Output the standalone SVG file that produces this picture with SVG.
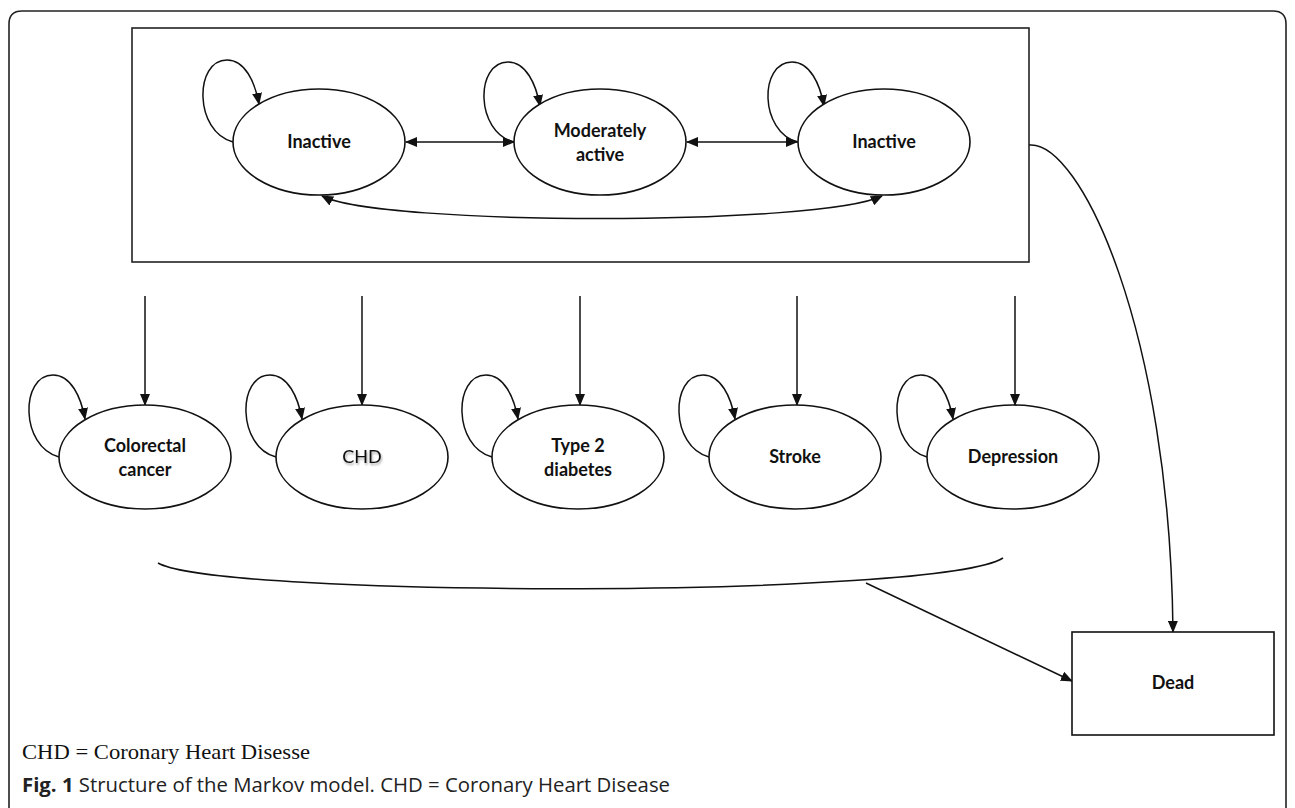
<svg xmlns="http://www.w3.org/2000/svg" width="1295" height="808" viewBox="0 0 1295 808">
<defs>
  <marker id="arr" markerWidth="12" markerHeight="10" refX="11" refY="5" orient="auto-start-reverse" markerUnits="userSpaceOnUse">
    <path d="M0,0 L12,5 L0,10 Z" fill="#111"/>
  </marker>
  <filter id="shadow" x="-20%" y="-20%" width="140%" height="140%">
    <feDropShadow dx="1" dy="2" stdDeviation="1" flood-color="#000" flood-opacity="0.35"/>
  </filter>
</defs>
<style>
  .frame{fill:none;stroke:#222;stroke-width:1.6}
  .node{fill:#fff;stroke:#111;stroke-width:1.6}
  .lbl{font-family:Lato,"Liberation Sans",sans-serif;font-weight:bold;font-size:18px;fill:#111;text-anchor:middle}
  .lblr{font-family:Lato,"Liberation Sans",sans-serif;font-weight:normal;font-size:18px;fill:#111;text-anchor:middle}
  .edge{fill:none;stroke:#111;stroke-width:1.5}
  .note{font-family:"Liberation Serif",serif;font-size:21px;fill:#111}
  .cap{font-family:"Open Sans","Liberation Sans",sans-serif;font-size:20px;fill:#222}
</style>
<rect width="1295" height="808" fill="#fff"/>
<path class="frame" d="M9,808 L9,24 Q9,11 22,11 L1273,11 Q1286,11 1286,24 L1286,808"/>

<g id="health-states">
  <rect class="frame" x="132" y="28" width="897" height="234"/>
</g>

<g id="connectors">
  <path class="edge" marker-end="url(#arr)" d="M233,142 C194,132 194,60 227,60 C245,60 255,82 259,104"/>
  <path class="edge" marker-end="url(#arr)" d="M514,142 C475,132 475,62 508,62 C526,62 536,84 540,106"/>
  <path class="edge" marker-end="url(#arr)" d="M798,142 C759,132 759,62 792,62 C810,62 820,84 824,106"/>
  <path class="edge" marker-start="url(#arr)" marker-end="url(#arr)" d="M406,142 L514,142"/>
  <path class="edge" marker-start="url(#arr)" marker-end="url(#arr)" d="M687,142 L797,142"/>
  <path class="edge" marker-start="url(#arr)" marker-end="url(#arr)" d="M322,196 C380,226 820,226 882,196"/>
  <path class="edge" marker-end="url(#arr)" d="M1029,145 C1080,140 1170,330 1173,632"/>
  <path class="edge" marker-end="url(#arr)" d="M145,296 L145,405"/>
  <path class="edge" marker-end="url(#arr)" d="M362,296 L362,405"/>
  <path class="edge" marker-end="url(#arr)" d="M580,296 L580,405"/>
  <path class="edge" marker-end="url(#arr)" d="M797,296 L797,405"/>
  <path class="edge" marker-end="url(#arr)" d="M1015,296 L1015,405"/>
  <path class="edge" marker-end="url(#arr)" d="M59,457 C20,447 20,375 53,375 C71,375 81,397 85,419"/>
  <path class="edge" marker-end="url(#arr)" d="M276,457 C237,447 237,375 270,375 C288,375 298,397 302,419"/>
  <path class="edge" marker-end="url(#arr)" d="M492,457 C453,447 453,375 486,375 C504,375 514,397 518,419"/>
  <path class="edge" marker-end="url(#arr)" d="M709,457 C670,447 670,375 703,375 C721,375 731,397 735,419"/>
  <path class="edge" marker-end="url(#arr)" d="M927,457 C888,447 888,375 921,375 C939,375 949,397 953,419"/>
  <path class="edge" d="M158,563 C220,598 940,598 1003,558"/>
  <path class="edge" marker-end="url(#arr)" d="M866,583 L1072,681"/>
</g>

<g id="inactive-1">
  <ellipse class="node" cx="319" cy="142" rx="86" ry="53"/>
  <text class="lbl" x="319" y="148">Inactive</text>
</g>
<g id="moderately-active">
  <ellipse class="node" cx="600" cy="142" rx="86" ry="53"/>
  <text class="lbl" x="600" y="137">Moderately</text>
  <text class="lbl" x="600" y="161">active</text>
</g>
<g id="inactive-2">
  <ellipse class="node" cx="884" cy="142" rx="86" ry="53"/>
  <text class="lbl" x="884" y="148">Inactive</text>
</g>

<g id="colorectal-cancer">
  <ellipse class="node" cx="145" cy="457" rx="86" ry="52"/>
  <text class="lbl" x="145" y="452">Colorectal</text>
  <text class="lbl" x="145" y="476">cancer</text>
</g>
<g id="chd">
  <ellipse class="node" cx="362" cy="457" rx="86" ry="52"/>
  <text class="lblr" x="362" y="463" filter="url(#shadow)">CHD</text>
</g>
<g id="type2-diabetes">
  <ellipse class="node" cx="578" cy="457" rx="86" ry="52"/>
  <text class="lbl" x="578" y="452">Type 2</text>
  <text class="lbl" x="578" y="476">diabetes</text>
</g>
<g id="stroke">
  <ellipse class="node" cx="795" cy="457" rx="86" ry="52"/>
  <text class="lbl" x="795" y="463">Stroke</text>
</g>
<g id="depression">
  <ellipse class="node" cx="1013" cy="457" rx="86" ry="52"/>
  <text class="lbl" x="1013" y="463">Depression</text>
</g>

<g id="dead">
  <rect class="node" x="1072" y="632" width="202" height="103"/>
  <text class="lbl" x="1173" y="689">Dead</text>
</g>

<text class="note" x="22" y="759" textLength="288" lengthAdjust="spacingAndGlyphs">CHD = Coronary Heart Disesse</text>
<text class="cap" x="22" y="792" textLength="648" lengthAdjust="spacingAndGlyphs"><tspan font-weight="bold">Fig. 1</tspan> Structure of the Markov model. CHD = Coronary Heart Disease</text>
</svg>
